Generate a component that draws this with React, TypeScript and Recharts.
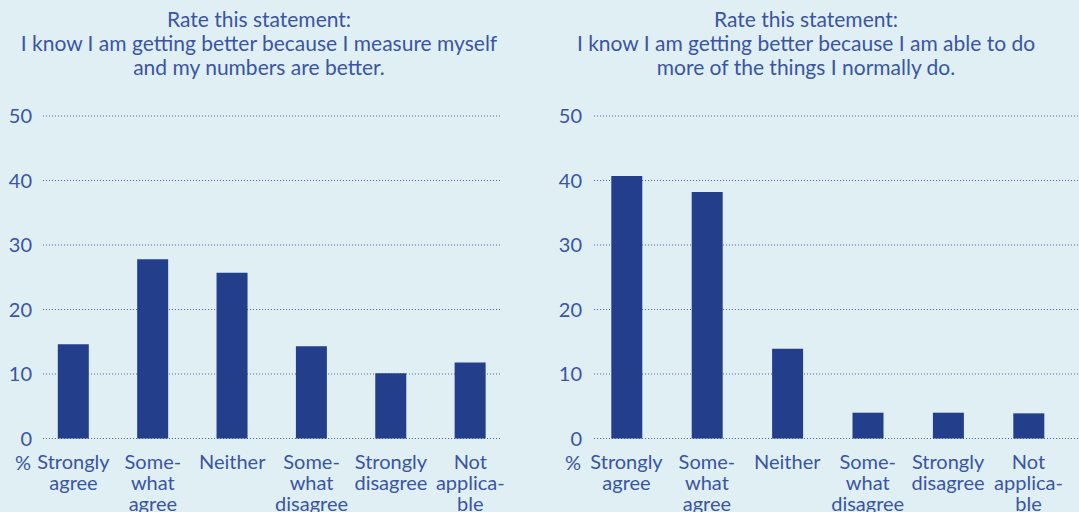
import { BarChart, Bar, XAxis, YAxis, CartesianGrid } from "recharts";

const BG = "#e0eff4";
const BAR = "#233f8c";
const TEXT = "#3a55a2";
const GRID = "#4a64ad";
const FONT = "Lato, 'Open Sans', sans-serif";

const categories = [
  "Strongly|agree",
  "Some-|what|agree",
  "Neither",
  "Some-|what|disagree",
  "Strongly|disagree",
  "Not|applica-|ble",
];
const measureValues = [14.6, 27.8, 25.7, 14.3, 10.1, 11.8];
const ableValues = [40.7, 38.2, 13.9, 4.0, 4.0, 3.9];
const yTicks = [0, 10, 20, 30, 40, 50];

const measureTitle = [
  "Rate this statement:",
  "I know I am getting better because I measure myself",
  "and my numbers are better.",
];
const ableTitle = [
  "Rate this statement:",
  "I know I am getting better because I am able to do",
  "more of the things I normally do.",
];

function CategoryTick(props: any) {
  const { x, y, payload } = props;
  const lines = String(payload.value).split("|");
  return (
    <text
      x={x}
      y={y + 30.5}
      textAnchor="middle"
      fill={TEXT}
      fontSize={20}
      fontFamily={FONT}
    >
      {lines.map((l, i) => (
        <tspan key={i} x={x} dy={i === 0 ? 0 : 21}>
          {l}
        </tspan>
      ))}
    </text>
  );
}

interface PanelProps {
  title: string[];
  values: number[];
  left: number;
  width: number;
  axisWidth: number;
  tickGap: number;
  padLeft: number;
  padRight: number;
  rightMargin: number;
  titleCenter: number;
  percentX: number;
}

function Panel(p: PanelProps) {
  const data = categories.map((name, i) => ({ name, value: p.values[i] }));
  return (
    <div style={{ position: "absolute", left: p.left, top: 0, width: p.width, height: 512 }}>
      <div
        style={{
          position: "absolute",
          top: 7,
          left: p.titleCenter - 300,
          width: 600,
          textAlign: "center",
          fontFamily: FONT,
          fontSize: 21,
          lineHeight: "24px",
          color: TEXT,
        }}
      >
        {p.title.map((t, i) => (
          <div key={i}>{t}</div>
        ))}
      </div>
      <div
        style={{
          position: "absolute",
          left: p.percentX,
          top: 450,
          fontFamily: FONT,
          fontSize: 20,
          color: TEXT,
        }}
      >
        %
      </div>
      <BarChart
        width={p.width}
        height={512}
        data={data}
        margin={{ top: 116, right: p.rightMargin, left: 0, bottom: 0 }}
        style={{ position: "absolute", left: 0, top: 0 }}
      >
        <CartesianGrid
          vertical={false}
          stroke={GRID}
          strokeDasharray="1 2"
        />
        <XAxis
          dataKey="name"
          axisLine={false}
          tickLine={false}
          tickSize={0}
          tickMargin={0}
          interval={0}
          padding={{ left: p.padLeft, right: p.padRight }}
          tick={<CategoryTick />}
          height={73.5}
        />
        <YAxis
          domain={[0, 50]}
          ticks={yTicks}
          width={p.axisWidth}
          axisLine={false}
          tickLine={false}
          tickSize={0}
          tickMargin={p.tickGap}
          tick={{ fill: TEXT, fontSize: 20, fontFamily: FONT }}
        />
        <Bar dataKey="value" fill={BAR} barSize={31} isAnimationActive={false} />
      </BarChart>
    </div>
  );
}

export default function App() {
  return (
    <div
      style={{
        position: "absolute",
        left: 0,
        top: 0,
        width: 1079,
        height: 512,
        background: BG,
        overflow: "hidden",
      }}
    >
      <Panel
        title={measureTitle}
        values={measureValues}
        left={0}
        width={540}
        axisWidth={43}
        tickGap={11}
        padLeft={-9.2}
        padRight={-10}
        rightMargin={40}
        titleCenter={259}
        percentX={15}
      />
      <Panel
        title={ableTitle}
        values={ableValues}
        left={540}
        width={539}
        axisWidth={54}
        tickGap={12}
        padLeft={-7.7}
        padRight={10.3}
        rightMargin={0}
        titleCenter={266}
        percentX={25}
      />
    </div>
  );
}
